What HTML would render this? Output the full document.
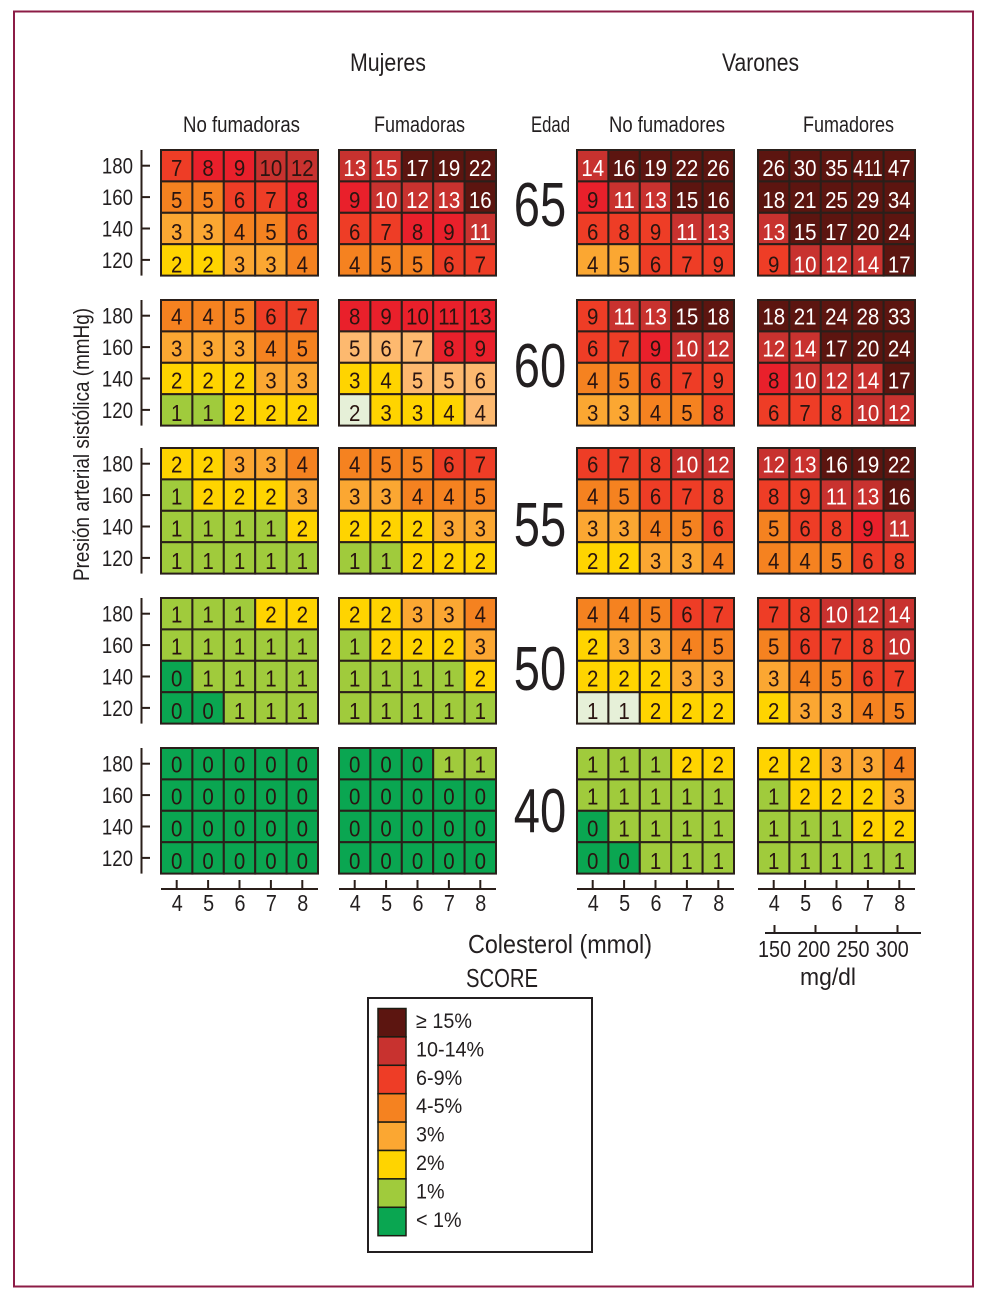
<!DOCTYPE html>
<html lang="es">
<head>
<meta charset="utf-8">
<title>SCORE</title>
<style>
html,body{margin:0;padding:0;background:#fff}
svg{display:block}
text{font-family:"Liberation Sans",Arial,sans-serif;fill:#231f20}
</style>
</head>
<body>
<svg id="chart" width="991" height="1304" viewBox="0 0 991 1304" xmlns="http://www.w3.org/2000/svg">
<rect x="0" y="0" width="991" height="1304" fill="#fff"/>
<rect x="14" y="11.5" width="959" height="1275" fill="none" stroke="#8c1c46" stroke-width="2"/>
<text x="350" y="71" font-size="25" textLength="76" lengthAdjust="spacingAndGlyphs">Mujeres</text>
<text x="722" y="71" font-size="25" textLength="77" lengthAdjust="spacingAndGlyphs">Varones</text>
<text x="183" y="132" font-size="22" textLength="117" lengthAdjust="spacingAndGlyphs">No fumadoras</text>
<text x="374" y="132" font-size="22" textLength="91" lengthAdjust="spacingAndGlyphs">Fumadoras</text>
<text x="531" y="132" font-size="22" textLength="39" lengthAdjust="spacingAndGlyphs">Edad</text>
<text x="609" y="132" font-size="22" textLength="116" lengthAdjust="spacingAndGlyphs">No fumadores</text>
<text x="803" y="132" font-size="22" textLength="91" lengthAdjust="spacingAndGlyphs">Fumadores</text>
<text transform="translate(89,581) rotate(-90)" x="0" y="0" font-size="22" textLength="273" lengthAdjust="spacingAndGlyphs">Presión arterial sistólica (mmHg)</text>
<text x="468" y="953" font-size="26" textLength="184" lengthAdjust="spacingAndGlyphs">Colesterol (mmol)</text>
<text x="466" y="987" font-size="26" textLength="72" lengthAdjust="spacingAndGlyphs">SCORE</text>
<line x1="765" y1="933" x2="921" y2="933" stroke="#231f20" stroke-width="2"/>
<text x="800" y="985" font-size="24" textLength="56" lengthAdjust="spacingAndGlyphs">mg/dl</text>
<rect x="368" y="998" width="224" height="254" fill="#fff" stroke="#231f20" stroke-width="2"/>
<g id="marks"></g>
<g id="axes"></g>
<g id="legend"></g>
</svg>
<script>
// ---- Data ----
var ages = [65, 60, 55, 50, 40];
var pressureTicks = [180, 160, 140, 120];
var cholesterolTicks = [4, 5, 6, 7, 8];
var mgdlTicks = [150, 200, 250, 300];
var legendLabels = ['≥ 15%', '10-14%', '6-9%', '4-5%', '3%', '2%', '1%', '< 1%'];

var women65NoSmoke = [[7,8,9,10,12],[5,5,6,7,8],[3,3,4,5,6],[2,2,3,3,4]];
var women65Smoke   = [[13,15,17,19,22],[9,10,12,13,16],[6,7,8,9,11],[4,5,5,6,7]];
var men65NoSmoke   = [[14,16,19,22,26],[9,11,13,15,16],[6,8,9,11,13],[4,5,6,7,9]];
var men65Smoke     = [[26,30,35,411,47],[18,21,25,29,34],[13,15,17,20,24],[9,10,12,14,17]];

var women60NoSmoke = [[4,4,5,6,7],[3,3,3,4,5],[2,2,2,3,3],[1,1,2,2,2]];
var women60Smoke   = [[8,9,10,11,13],[5,6,7,8,9],[3,4,5,5,6],[2,3,3,4,4]];
var men60NoSmoke   = [[9,11,13,15,18],[6,7,9,10,12],[4,5,6,7,9],[3,3,4,5,8]];
var men60Smoke     = [[18,21,24,28,33],[12,14,17,20,24],[8,10,12,14,17],[6,7,8,10,12]];

var women55NoSmoke = [[2,2,3,3,4],[1,2,2,2,3],[1,1,1,1,2],[1,1,1,1,1]];
var women55Smoke   = [[4,5,5,6,7],[3,3,4,4,5],[2,2,2,3,3],[1,1,2,2,2]];
var men55NoSmoke   = [[6,7,8,10,12],[4,5,6,7,8],[3,3,4,5,6],[2,2,3,3,4]];
var men55Smoke     = [[12,13,16,19,22],[8,9,11,13,16],[5,6,8,9,11],[4,4,5,6,8]];

var women50NoSmoke = [[1,1,1,2,2],[1,1,1,1,1],[0,1,1,1,1],[0,0,1,1,1]];
var women50Smoke   = [[2,2,3,3,4],[1,2,2,2,3],[1,1,1,1,2],[1,1,1,1,1]];
var men50NoSmoke   = [[4,4,5,6,7],[2,3,3,4,5],[2,2,2,3,3],[1,1,2,2,2]];
var men50Smoke     = [[7,8,10,12,14],[5,6,7,8,10],[3,4,5,6,7],[2,3,3,4,5]];

var women40NoSmoke = [[0,0,0,0,0],[0,0,0,0,0],[0,0,0,0,0],[0,0,0,0,0]];
var women40Smoke   = [[0,0,0,1,1],[0,0,0,0,0],[0,0,0,0,0],[0,0,0,0,0]];
var men40NoSmoke   = [[1,1,1,2,2],[1,1,1,1,1],[0,1,1,1,1],[0,0,1,1,1]];
var men40Smoke     = [[2,2,3,3,4],[1,2,2,2,3],[1,1,1,2,2],[1,1,1,1,1]];

var panelNames = ['women-non-smokers', 'women-smokers', 'men-non-smokers', 'men-smokers'];
var grids = [
  [women65NoSmoke, women65Smoke, men65NoSmoke, men65Smoke],
  [women60NoSmoke, women60Smoke, men60NoSmoke, men60Smoke],
  [women55NoSmoke, women55Smoke, men55NoSmoke, men55Smoke],
  [women50NoSmoke, women50Smoke, men50NoSmoke, men50Smoke],
  [women40NoSmoke, women40Smoke, men40NoSmoke, men40Smoke]
];

// Cells printed in the source with a tone other than their value band: "age|panel|row|col": tone
var toneExceptions = {
  '0|0|0|1':'bright','0|0|0|2':'bright','0|0|0|3':'mutedDarkText','0|0|0|4':'mutedDarkText','0|0|1|4':'bright',
  '0|1|0|1':'high','0|1|1|0':'bright','0|1|2|2':'bright','0|1|2|3':'bright',
  '0|2|1|0':'bright','0|2|3|0':'b3','0|2|3|1':'b3',
  '1|1|0|0':'bright','1|1|0|1':'bright','1|1|0|2':'bright','1|1|0|3':'bright','1|1|0|4':'bright',
  '1|1|1|0':'light','1|1|1|1':'light','1|1|1|2':'light','1|1|1|3':'bright','1|1|1|4':'bright',
  '1|1|2|0':'b2','1|1|2|1':'b2','1|1|2|2':'light','1|1|2|3':'light','1|1|2|4':'light',
  '1|1|3|0':'pale','1|1|3|1':'b2','1|1|3|2':'b2','1|1|3|3':'b2','1|1|3|4':'light',
  '1|2|1|2':'bright','1|3|2|0':'bright','2|3|2|3':'bright',
  '3|2|3|0':'pale','3|2|3|1':'pale'
};

var palette = {
  dark:'#5c1510', high:'#c8322f', mutedDarkText:'#c8322f', red:'#ee3d26', bright:'#e9202b',
  b45:'#f58220', b3:'#fba732', b2:'#ffd400', b1:'#a0cb3c', b0:'#0aa651',
  light:'#fdb96f', pale:'#e6f0d8'
};
var legendTones = ['dark','high','red','b45','b3','b2','b1','b0'];

// ---- Axis functions ----
var panelLeft = [161, 339, 577, 758];
var panelTop = [150, 300, 448, 598, 748];
var cellSize = 31.4;
function xScale(p, c) { return panelLeft[p] + c * cellSize; }
function yScale(a, r) { return panelTop[a] + r * cellSize; }
function toneFor(v) {
  if (v >= 15) return 'dark';
  if (v >= 10) return 'high';
  if (v >= 6) return 'red';
  if (v >= 4) return 'b45';
  if (v === 3) return 'b3';
  if (v === 2) return 'b2';
  if (v === 1) return 'b1';
  return 'b0';
}

var NS = 'http://www.w3.org/2000/svg';
function make(tag, attrs, parent) {
  var el = document.createElementNS(NS, tag);
  for (var k in attrs) el.setAttribute(k, attrs[k]);
  parent.appendChild(el);
  return el;
}
function narrowText(content, x, y, size, anchor, sx, fill, parent) {
  var el = make('text', {transform:'translate(' + x + ',' + y + ') scale(' + sx + ',1)', 'text-anchor':anchor, 'font-size':size}, parent);
  if (fill) el.style.fill = fill;
  el.textContent = content;
  return el;
}

var marks = document.getElementById('marks');
var axes = document.getElementById('axes');
var legend = document.getElementById('legend');
var ink = '#2a1f1a';

ages.forEach(function (age, a) {
  grids[a].forEach(function (grid, p) {
    var group = make('g', {}, marks);
    
    
    grid.forEach(function (row, r) {
      row.forEach(function (v, c) {
        var key = a + '|' + p + '|' + r + '|' + c;
        var tone = toneExceptions[key] || toneFor(v);
        var rect = make('rect', {x:xScale(p, c), y:yScale(a, r), width:cellSize, height:cellSize, fill:palette[tone], stroke:ink, 'stroke-width':2}, group);
        
        
        var white = (tone === 'dark' || tone === 'high');
        var nudge = (a === 0 ? 1.5 : 0) + r * 0.7;
        var label = narrowText(String(v), xScale(p, c) + cellSize / 2, yScale(a, r) + cellSize / 2 + 8.8 + nudge, 23, 'middle', String(v).length > 2 ? 0.8 : 0.89, white ? '#fff' : '#2a1410', group);
        
        
      });
    });
  });
  // pressure axis
  var axisLine = make('line', {x1:141.5, y1:yScale(a, 0), x2:141.5, y2:yScale(a, 4), stroke:ink, 'stroke-width':2}, axes);
  
  
  pressureTicks.forEach(function (t, r) {
    var cy = yScale(a, r) + cellSize / 2;
    var tick = make('line', {x1:141.5, y1:cy, x2:150, y2:cy, stroke:ink, 'stroke-width':2}, axes);
    
    
    var lab = narrowText(String(t), 133, cy + 8, 22.5, 'end', 0.83, null, axes);
    
    
  });
  var ageLabel = narrowText(String(age), 540, yScale(a, 0) + (a === 0 ? 76 : a === 1 ? 87 : a === 2 ? 98 : a === 3 ? 92 : 84), 62, 'middle', 0.76, null, axes);
  
  
});

// cholesterol axes
panelNames.forEach(function (name, p) {
  var base = make('line', {x1:xScale(p, 0), y1:889, x2:xScale(p, 5), y2:889, stroke:ink, 'stroke-width':2}, axes);
  
  
  cholesterolTicks.forEach(function (t, i) {
    var cx = xScale(p, i) + cellSize / 2;
    var tick = make('line', {x1:cx, y1:880, x2:cx, y2:889, stroke:ink, 'stroke-width':2}, axes);
    
    
    var lab = narrowText(String(t), cx + 0.5, 911, 23, 'middle', 0.86, null, axes);
    
    
  });
});

// mg/dl axis
function mgdlTickX(v) { return 774.5 + (v - 150) * 0.82; }
function mgdlLabelX(v) { return 774.5 + (v - 150) * 0.785; }
mgdlTicks.forEach(function (t) {
  var mx = mgdlTickX(t);
  var tick = make('line', {x1:mx, y1:925, x2:mx, y2:933, stroke:ink, 'stroke-width':2}, axes);
  
  
  var lab = narrowText(String(t), mgdlLabelX(t), 957, 23, 'middle', 0.86, null, axes);
  
  
});

// legend
legendLabels.forEach(function (text, i) {
  var swatch = make('rect', {x:378, y:1008.5 + i * 28.4, width:28, height:28.4, fill:palette[legendTones[i]], stroke:'#1c1c12', 'stroke-width':1.5}, legend);
  
  
  var lab = narrowText(text, 416, 1028 + i * 28.4, 21.5, 'start', 0.92, null, legend);
  
  
});
</script>
</body>
</html>
